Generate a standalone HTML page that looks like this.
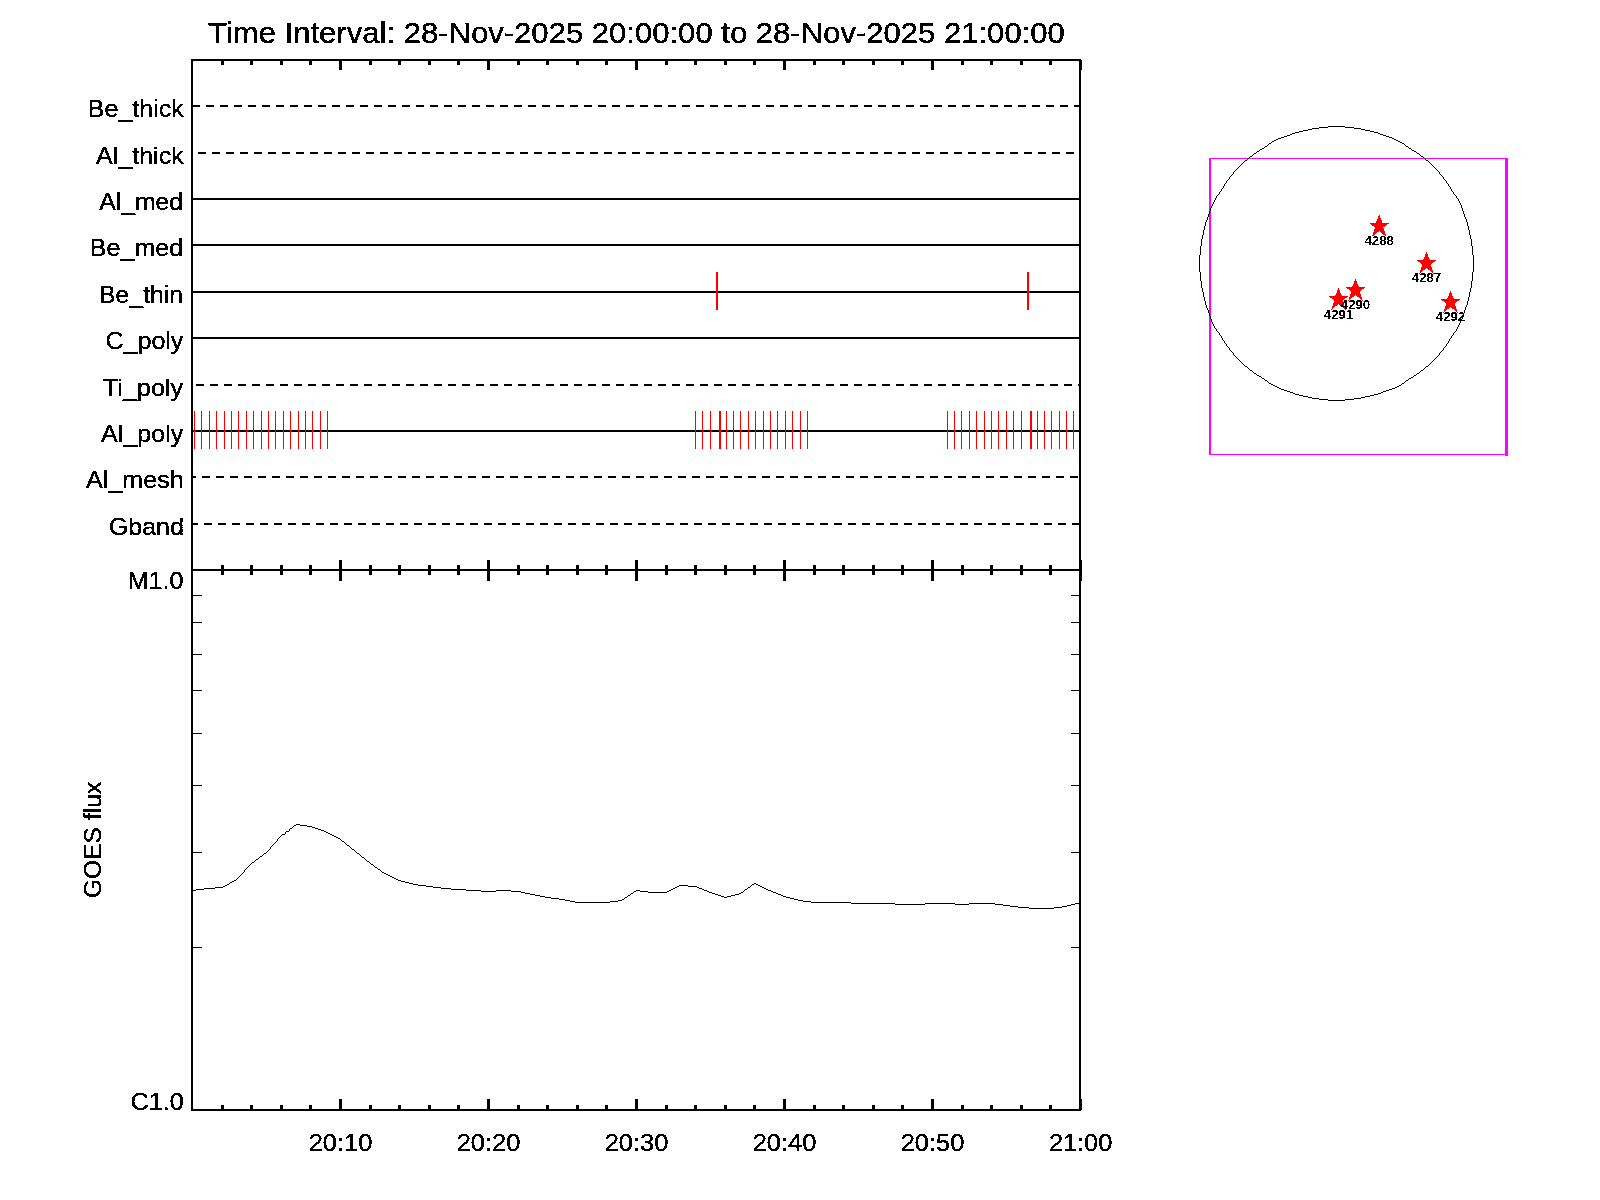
<!DOCTYPE html>
<html><head><meta charset="utf-8"><title>Time Interval plot</title>
<style>
html,body{margin:0;padding:0;background:#fff;}
body{width:1600px;height:1200px;overflow:hidden;}
svg{display:block;}
text{font-family:"Liberation Sans",sans-serif;fill:#000;}
</style></head>
<body>
<svg width="1600" height="1200" viewBox="0 0 1600 1200">
<rect x="0" y="0" width="1600" height="1200" fill="#fff"/>
<g shape-rendering="crispEdges">
<rect x="191" y="59" width="890" height="2" fill="#000"/>
<rect x="191" y="569" width="890" height="2" fill="#000"/>
<rect x="191" y="1109" width="890" height="2" fill="#000"/>
<rect x="191" y="59" width="2" height="1052" fill="#000"/>
<rect x="1079" y="59" width="2" height="1052" fill="#000"/>
<rect x="221" y="60" width="3" height="5" fill="#000"/>
<rect x="221" y="565" width="3" height="10" fill="#000"/>
<rect x="221" y="1105" width="3" height="5" fill="#000"/>
<rect x="250" y="60" width="3" height="5" fill="#000"/>
<rect x="250" y="565" width="3" height="10" fill="#000"/>
<rect x="250" y="1105" width="3" height="5" fill="#000"/>
<rect x="280" y="60" width="3" height="5" fill="#000"/>
<rect x="280" y="565" width="3" height="10" fill="#000"/>
<rect x="280" y="1105" width="3" height="5" fill="#000"/>
<rect x="309" y="60" width="3" height="5" fill="#000"/>
<rect x="309" y="565" width="3" height="10" fill="#000"/>
<rect x="309" y="1105" width="3" height="5" fill="#000"/>
<rect x="339" y="60" width="3" height="10" fill="#000"/>
<rect x="339" y="560" width="3" height="21" fill="#000"/>
<rect x="339" y="1099" width="3" height="11" fill="#000"/>
<rect x="369" y="60" width="3" height="5" fill="#000"/>
<rect x="369" y="565" width="3" height="10" fill="#000"/>
<rect x="369" y="1105" width="3" height="5" fill="#000"/>
<rect x="398" y="60" width="3" height="5" fill="#000"/>
<rect x="398" y="565" width="3" height="10" fill="#000"/>
<rect x="398" y="1105" width="3" height="5" fill="#000"/>
<rect x="428" y="60" width="3" height="5" fill="#000"/>
<rect x="428" y="565" width="3" height="10" fill="#000"/>
<rect x="428" y="1105" width="3" height="5" fill="#000"/>
<rect x="457" y="60" width="3" height="5" fill="#000"/>
<rect x="457" y="565" width="3" height="10" fill="#000"/>
<rect x="457" y="1105" width="3" height="5" fill="#000"/>
<rect x="487" y="60" width="3" height="10" fill="#000"/>
<rect x="487" y="560" width="3" height="21" fill="#000"/>
<rect x="487" y="1099" width="3" height="11" fill="#000"/>
<rect x="517" y="60" width="3" height="5" fill="#000"/>
<rect x="517" y="565" width="3" height="10" fill="#000"/>
<rect x="517" y="1105" width="3" height="5" fill="#000"/>
<rect x="546" y="60" width="3" height="5" fill="#000"/>
<rect x="546" y="565" width="3" height="10" fill="#000"/>
<rect x="546" y="1105" width="3" height="5" fill="#000"/>
<rect x="576" y="60" width="3" height="5" fill="#000"/>
<rect x="576" y="565" width="3" height="10" fill="#000"/>
<rect x="576" y="1105" width="3" height="5" fill="#000"/>
<rect x="605" y="60" width="3" height="5" fill="#000"/>
<rect x="605" y="565" width="3" height="10" fill="#000"/>
<rect x="605" y="1105" width="3" height="5" fill="#000"/>
<rect x="635" y="60" width="3" height="10" fill="#000"/>
<rect x="635" y="560" width="3" height="21" fill="#000"/>
<rect x="635" y="1099" width="3" height="11" fill="#000"/>
<rect x="665" y="60" width="3" height="5" fill="#000"/>
<rect x="665" y="565" width="3" height="10" fill="#000"/>
<rect x="665" y="1105" width="3" height="5" fill="#000"/>
<rect x="694" y="60" width="3" height="5" fill="#000"/>
<rect x="694" y="565" width="3" height="10" fill="#000"/>
<rect x="694" y="1105" width="3" height="5" fill="#000"/>
<rect x="724" y="60" width="3" height="5" fill="#000"/>
<rect x="724" y="565" width="3" height="10" fill="#000"/>
<rect x="724" y="1105" width="3" height="5" fill="#000"/>
<rect x="753" y="60" width="3" height="5" fill="#000"/>
<rect x="753" y="565" width="3" height="10" fill="#000"/>
<rect x="753" y="1105" width="3" height="5" fill="#000"/>
<rect x="783" y="60" width="3" height="10" fill="#000"/>
<rect x="783" y="560" width="3" height="21" fill="#000"/>
<rect x="783" y="1099" width="3" height="11" fill="#000"/>
<rect x="813" y="60" width="3" height="5" fill="#000"/>
<rect x="813" y="565" width="3" height="10" fill="#000"/>
<rect x="813" y="1105" width="3" height="5" fill="#000"/>
<rect x="842" y="60" width="3" height="5" fill="#000"/>
<rect x="842" y="565" width="3" height="10" fill="#000"/>
<rect x="842" y="1105" width="3" height="5" fill="#000"/>
<rect x="872" y="60" width="3" height="5" fill="#000"/>
<rect x="872" y="565" width="3" height="10" fill="#000"/>
<rect x="872" y="1105" width="3" height="5" fill="#000"/>
<rect x="901" y="60" width="3" height="5" fill="#000"/>
<rect x="901" y="565" width="3" height="10" fill="#000"/>
<rect x="901" y="1105" width="3" height="5" fill="#000"/>
<rect x="931" y="60" width="3" height="10" fill="#000"/>
<rect x="931" y="560" width="3" height="21" fill="#000"/>
<rect x="931" y="1099" width="3" height="11" fill="#000"/>
<rect x="961" y="60" width="3" height="5" fill="#000"/>
<rect x="961" y="565" width="3" height="10" fill="#000"/>
<rect x="961" y="1105" width="3" height="5" fill="#000"/>
<rect x="990" y="60" width="3" height="5" fill="#000"/>
<rect x="990" y="565" width="3" height="10" fill="#000"/>
<rect x="990" y="1105" width="3" height="5" fill="#000"/>
<rect x="1020" y="60" width="3" height="5" fill="#000"/>
<rect x="1020" y="565" width="3" height="10" fill="#000"/>
<rect x="1020" y="1105" width="3" height="5" fill="#000"/>
<rect x="1049" y="60" width="3" height="5" fill="#000"/>
<rect x="1049" y="565" width="3" height="10" fill="#000"/>
<rect x="1049" y="1105" width="3" height="5" fill="#000"/>
<rect x="1079" y="60" width="3" height="10" fill="#000"/>
<rect x="1079" y="560" width="3" height="21" fill="#000"/>
<rect x="1079" y="1099" width="3" height="11" fill="#000"/>
<rect x="191" y="595" width="11" height="1" fill="#000"/>
<rect x="1071" y="595" width="10" height="1" fill="#000"/>
<rect x="191" y="622" width="11" height="1" fill="#000"/>
<rect x="1071" y="622" width="10" height="1" fill="#000"/>
<rect x="191" y="654" width="11" height="1" fill="#000"/>
<rect x="1071" y="654" width="10" height="1" fill="#000"/>
<rect x="191" y="690" width="11" height="1" fill="#000"/>
<rect x="1071" y="690" width="10" height="1" fill="#000"/>
<rect x="191" y="733" width="11" height="1" fill="#000"/>
<rect x="1071" y="733" width="10" height="1" fill="#000"/>
<rect x="191" y="785" width="11" height="1" fill="#000"/>
<rect x="1071" y="785" width="10" height="1" fill="#000"/>
<rect x="191" y="852" width="11" height="1" fill="#000"/>
<rect x="1071" y="852" width="10" height="1" fill="#000"/>
<rect x="191" y="947" width="11" height="1" fill="#000"/>
<rect x="1071" y="947" width="10" height="1" fill="#000"/>
<rect x="193" y="105" width="7" height="2" fill="#000"/>
<rect x="206" y="105" width="8" height="2" fill="#000"/>
<rect x="220" y="105" width="8" height="2" fill="#000"/>
<rect x="234" y="105" width="8" height="2" fill="#000"/>
<rect x="248" y="105" width="8" height="2" fill="#000"/>
<rect x="262" y="105" width="8" height="2" fill="#000"/>
<rect x="276" y="105" width="8" height="2" fill="#000"/>
<rect x="290" y="105" width="8" height="2" fill="#000"/>
<rect x="304" y="105" width="8" height="2" fill="#000"/>
<rect x="318" y="105" width="8" height="2" fill="#000"/>
<rect x="332" y="105" width="8" height="2" fill="#000"/>
<rect x="346" y="105" width="8" height="2" fill="#000"/>
<rect x="360" y="105" width="8" height="2" fill="#000"/>
<rect x="374" y="105" width="8" height="2" fill="#000"/>
<rect x="388" y="105" width="8" height="2" fill="#000"/>
<rect x="402" y="105" width="8" height="2" fill="#000"/>
<rect x="416" y="105" width="8" height="2" fill="#000"/>
<rect x="430" y="105" width="8" height="2" fill="#000"/>
<rect x="444" y="105" width="8" height="2" fill="#000"/>
<rect x="458" y="105" width="8" height="2" fill="#000"/>
<rect x="472" y="105" width="8" height="2" fill="#000"/>
<rect x="486" y="105" width="8" height="2" fill="#000"/>
<rect x="500" y="105" width="8" height="2" fill="#000"/>
<rect x="514" y="105" width="8" height="2" fill="#000"/>
<rect x="528" y="105" width="8" height="2" fill="#000"/>
<rect x="542" y="105" width="8" height="2" fill="#000"/>
<rect x="556" y="105" width="8" height="2" fill="#000"/>
<rect x="570" y="105" width="8" height="2" fill="#000"/>
<rect x="584" y="105" width="8" height="2" fill="#000"/>
<rect x="598" y="105" width="8" height="2" fill="#000"/>
<rect x="612" y="105" width="8" height="2" fill="#000"/>
<rect x="626" y="105" width="8" height="2" fill="#000"/>
<rect x="640" y="105" width="8" height="2" fill="#000"/>
<rect x="654" y="105" width="8" height="2" fill="#000"/>
<rect x="668" y="105" width="8" height="2" fill="#000"/>
<rect x="682" y="105" width="8" height="2" fill="#000"/>
<rect x="696" y="105" width="8" height="2" fill="#000"/>
<rect x="710" y="105" width="8" height="2" fill="#000"/>
<rect x="724" y="105" width="8" height="2" fill="#000"/>
<rect x="738" y="105" width="8" height="2" fill="#000"/>
<rect x="752" y="105" width="8" height="2" fill="#000"/>
<rect x="766" y="105" width="8" height="2" fill="#000"/>
<rect x="780" y="105" width="8" height="2" fill="#000"/>
<rect x="794" y="105" width="8" height="2" fill="#000"/>
<rect x="808" y="105" width="8" height="2" fill="#000"/>
<rect x="822" y="105" width="8" height="2" fill="#000"/>
<rect x="836" y="105" width="8" height="2" fill="#000"/>
<rect x="850" y="105" width="8" height="2" fill="#000"/>
<rect x="864" y="105" width="8" height="2" fill="#000"/>
<rect x="878" y="105" width="8" height="2" fill="#000"/>
<rect x="892" y="105" width="8" height="2" fill="#000"/>
<rect x="906" y="105" width="8" height="2" fill="#000"/>
<rect x="920" y="105" width="8" height="2" fill="#000"/>
<rect x="934" y="105" width="8" height="2" fill="#000"/>
<rect x="948" y="105" width="8" height="2" fill="#000"/>
<rect x="962" y="105" width="8" height="2" fill="#000"/>
<rect x="976" y="105" width="8" height="2" fill="#000"/>
<rect x="990" y="105" width="8" height="2" fill="#000"/>
<rect x="1004" y="105" width="8" height="2" fill="#000"/>
<rect x="1018" y="105" width="8" height="2" fill="#000"/>
<rect x="1032" y="105" width="8" height="2" fill="#000"/>
<rect x="1046" y="105" width="8" height="2" fill="#000"/>
<rect x="1060" y="105" width="8" height="2" fill="#000"/>
<rect x="1074" y="105" width="5" height="2" fill="#000"/>
<rect x="198" y="152" width="8" height="2" fill="#000"/>
<rect x="212" y="152" width="8" height="2" fill="#000"/>
<rect x="226" y="152" width="8" height="2" fill="#000"/>
<rect x="240" y="152" width="8" height="2" fill="#000"/>
<rect x="254" y="152" width="8" height="2" fill="#000"/>
<rect x="268" y="152" width="8" height="2" fill="#000"/>
<rect x="282" y="152" width="8" height="2" fill="#000"/>
<rect x="296" y="152" width="8" height="2" fill="#000"/>
<rect x="310" y="152" width="8" height="2" fill="#000"/>
<rect x="324" y="152" width="8" height="2" fill="#000"/>
<rect x="338" y="152" width="8" height="2" fill="#000"/>
<rect x="352" y="152" width="8" height="2" fill="#000"/>
<rect x="366" y="152" width="8" height="2" fill="#000"/>
<rect x="380" y="152" width="8" height="2" fill="#000"/>
<rect x="394" y="152" width="8" height="2" fill="#000"/>
<rect x="408" y="152" width="8" height="2" fill="#000"/>
<rect x="422" y="152" width="8" height="2" fill="#000"/>
<rect x="436" y="152" width="8" height="2" fill="#000"/>
<rect x="450" y="152" width="8" height="2" fill="#000"/>
<rect x="464" y="152" width="8" height="2" fill="#000"/>
<rect x="478" y="152" width="8" height="2" fill="#000"/>
<rect x="492" y="152" width="8" height="2" fill="#000"/>
<rect x="506" y="152" width="8" height="2" fill="#000"/>
<rect x="520" y="152" width="8" height="2" fill="#000"/>
<rect x="534" y="152" width="8" height="2" fill="#000"/>
<rect x="548" y="152" width="8" height="2" fill="#000"/>
<rect x="562" y="152" width="8" height="2" fill="#000"/>
<rect x="576" y="152" width="8" height="2" fill="#000"/>
<rect x="590" y="152" width="8" height="2" fill="#000"/>
<rect x="604" y="152" width="8" height="2" fill="#000"/>
<rect x="618" y="152" width="8" height="2" fill="#000"/>
<rect x="632" y="152" width="8" height="2" fill="#000"/>
<rect x="646" y="152" width="8" height="2" fill="#000"/>
<rect x="660" y="152" width="8" height="2" fill="#000"/>
<rect x="674" y="152" width="8" height="2" fill="#000"/>
<rect x="688" y="152" width="8" height="2" fill="#000"/>
<rect x="702" y="152" width="8" height="2" fill="#000"/>
<rect x="716" y="152" width="8" height="2" fill="#000"/>
<rect x="730" y="152" width="8" height="2" fill="#000"/>
<rect x="744" y="152" width="8" height="2" fill="#000"/>
<rect x="758" y="152" width="8" height="2" fill="#000"/>
<rect x="772" y="152" width="8" height="2" fill="#000"/>
<rect x="786" y="152" width="8" height="2" fill="#000"/>
<rect x="800" y="152" width="8" height="2" fill="#000"/>
<rect x="814" y="152" width="8" height="2" fill="#000"/>
<rect x="828" y="152" width="8" height="2" fill="#000"/>
<rect x="842" y="152" width="8" height="2" fill="#000"/>
<rect x="856" y="152" width="8" height="2" fill="#000"/>
<rect x="870" y="152" width="8" height="2" fill="#000"/>
<rect x="884" y="152" width="8" height="2" fill="#000"/>
<rect x="898" y="152" width="8" height="2" fill="#000"/>
<rect x="912" y="152" width="8" height="2" fill="#000"/>
<rect x="926" y="152" width="8" height="2" fill="#000"/>
<rect x="940" y="152" width="8" height="2" fill="#000"/>
<rect x="954" y="152" width="8" height="2" fill="#000"/>
<rect x="968" y="152" width="8" height="2" fill="#000"/>
<rect x="982" y="152" width="8" height="2" fill="#000"/>
<rect x="996" y="152" width="8" height="2" fill="#000"/>
<rect x="1010" y="152" width="8" height="2" fill="#000"/>
<rect x="1024" y="152" width="8" height="2" fill="#000"/>
<rect x="1038" y="152" width="8" height="2" fill="#000"/>
<rect x="1052" y="152" width="8" height="2" fill="#000"/>
<rect x="1066" y="152" width="8" height="2" fill="#000"/>
<rect x="193" y="198" width="886" height="2" fill="#000"/>
<rect x="193" y="244" width="886" height="2" fill="#000"/>
<rect x="193" y="291" width="886" height="2" fill="#000"/>
<rect x="193" y="337" width="886" height="2" fill="#000"/>
<rect x="196" y="384" width="8" height="2" fill="#000"/>
<rect x="210" y="384" width="8" height="2" fill="#000"/>
<rect x="224" y="384" width="8" height="2" fill="#000"/>
<rect x="238" y="384" width="8" height="2" fill="#000"/>
<rect x="252" y="384" width="8" height="2" fill="#000"/>
<rect x="266" y="384" width="8" height="2" fill="#000"/>
<rect x="280" y="384" width="8" height="2" fill="#000"/>
<rect x="294" y="384" width="8" height="2" fill="#000"/>
<rect x="308" y="384" width="8" height="2" fill="#000"/>
<rect x="322" y="384" width="8" height="2" fill="#000"/>
<rect x="336" y="384" width="8" height="2" fill="#000"/>
<rect x="350" y="384" width="8" height="2" fill="#000"/>
<rect x="364" y="384" width="8" height="2" fill="#000"/>
<rect x="378" y="384" width="8" height="2" fill="#000"/>
<rect x="392" y="384" width="8" height="2" fill="#000"/>
<rect x="406" y="384" width="8" height="2" fill="#000"/>
<rect x="420" y="384" width="8" height="2" fill="#000"/>
<rect x="434" y="384" width="8" height="2" fill="#000"/>
<rect x="448" y="384" width="8" height="2" fill="#000"/>
<rect x="462" y="384" width="8" height="2" fill="#000"/>
<rect x="476" y="384" width="8" height="2" fill="#000"/>
<rect x="490" y="384" width="8" height="2" fill="#000"/>
<rect x="504" y="384" width="8" height="2" fill="#000"/>
<rect x="518" y="384" width="8" height="2" fill="#000"/>
<rect x="532" y="384" width="8" height="2" fill="#000"/>
<rect x="546" y="384" width="8" height="2" fill="#000"/>
<rect x="560" y="384" width="8" height="2" fill="#000"/>
<rect x="574" y="384" width="8" height="2" fill="#000"/>
<rect x="588" y="384" width="8" height="2" fill="#000"/>
<rect x="602" y="384" width="8" height="2" fill="#000"/>
<rect x="616" y="384" width="8" height="2" fill="#000"/>
<rect x="630" y="384" width="8" height="2" fill="#000"/>
<rect x="644" y="384" width="8" height="2" fill="#000"/>
<rect x="658" y="384" width="8" height="2" fill="#000"/>
<rect x="672" y="384" width="8" height="2" fill="#000"/>
<rect x="686" y="384" width="8" height="2" fill="#000"/>
<rect x="700" y="384" width="8" height="2" fill="#000"/>
<rect x="714" y="384" width="8" height="2" fill="#000"/>
<rect x="728" y="384" width="8" height="2" fill="#000"/>
<rect x="742" y="384" width="8" height="2" fill="#000"/>
<rect x="756" y="384" width="8" height="2" fill="#000"/>
<rect x="770" y="384" width="8" height="2" fill="#000"/>
<rect x="784" y="384" width="8" height="2" fill="#000"/>
<rect x="798" y="384" width="8" height="2" fill="#000"/>
<rect x="812" y="384" width="8" height="2" fill="#000"/>
<rect x="826" y="384" width="8" height="2" fill="#000"/>
<rect x="840" y="384" width="8" height="2" fill="#000"/>
<rect x="854" y="384" width="8" height="2" fill="#000"/>
<rect x="868" y="384" width="8" height="2" fill="#000"/>
<rect x="882" y="384" width="8" height="2" fill="#000"/>
<rect x="896" y="384" width="8" height="2" fill="#000"/>
<rect x="910" y="384" width="8" height="2" fill="#000"/>
<rect x="924" y="384" width="8" height="2" fill="#000"/>
<rect x="938" y="384" width="8" height="2" fill="#000"/>
<rect x="952" y="384" width="8" height="2" fill="#000"/>
<rect x="966" y="384" width="8" height="2" fill="#000"/>
<rect x="980" y="384" width="8" height="2" fill="#000"/>
<rect x="994" y="384" width="8" height="2" fill="#000"/>
<rect x="1008" y="384" width="8" height="2" fill="#000"/>
<rect x="1022" y="384" width="8" height="2" fill="#000"/>
<rect x="1036" y="384" width="8" height="2" fill="#000"/>
<rect x="1050" y="384" width="8" height="2" fill="#000"/>
<rect x="1064" y="384" width="8" height="2" fill="#000"/>
<rect x="1078" y="384" width="1" height="2" fill="#000"/>
<rect x="193" y="430" width="886" height="2" fill="#000"/>
<rect x="193" y="476" width="3" height="2" fill="#000"/>
<rect x="202" y="476" width="8" height="2" fill="#000"/>
<rect x="216" y="476" width="8" height="2" fill="#000"/>
<rect x="230" y="476" width="8" height="2" fill="#000"/>
<rect x="244" y="476" width="8" height="2" fill="#000"/>
<rect x="258" y="476" width="8" height="2" fill="#000"/>
<rect x="272" y="476" width="8" height="2" fill="#000"/>
<rect x="286" y="476" width="8" height="2" fill="#000"/>
<rect x="300" y="476" width="8" height="2" fill="#000"/>
<rect x="314" y="476" width="8" height="2" fill="#000"/>
<rect x="328" y="476" width="8" height="2" fill="#000"/>
<rect x="342" y="476" width="8" height="2" fill="#000"/>
<rect x="356" y="476" width="8" height="2" fill="#000"/>
<rect x="370" y="476" width="8" height="2" fill="#000"/>
<rect x="384" y="476" width="8" height="2" fill="#000"/>
<rect x="398" y="476" width="8" height="2" fill="#000"/>
<rect x="412" y="476" width="8" height="2" fill="#000"/>
<rect x="426" y="476" width="8" height="2" fill="#000"/>
<rect x="440" y="476" width="8" height="2" fill="#000"/>
<rect x="454" y="476" width="8" height="2" fill="#000"/>
<rect x="468" y="476" width="8" height="2" fill="#000"/>
<rect x="482" y="476" width="8" height="2" fill="#000"/>
<rect x="496" y="476" width="8" height="2" fill="#000"/>
<rect x="510" y="476" width="8" height="2" fill="#000"/>
<rect x="524" y="476" width="8" height="2" fill="#000"/>
<rect x="538" y="476" width="8" height="2" fill="#000"/>
<rect x="552" y="476" width="8" height="2" fill="#000"/>
<rect x="566" y="476" width="8" height="2" fill="#000"/>
<rect x="580" y="476" width="8" height="2" fill="#000"/>
<rect x="594" y="476" width="8" height="2" fill="#000"/>
<rect x="608" y="476" width="8" height="2" fill="#000"/>
<rect x="622" y="476" width="8" height="2" fill="#000"/>
<rect x="636" y="476" width="8" height="2" fill="#000"/>
<rect x="650" y="476" width="8" height="2" fill="#000"/>
<rect x="664" y="476" width="8" height="2" fill="#000"/>
<rect x="678" y="476" width="8" height="2" fill="#000"/>
<rect x="692" y="476" width="8" height="2" fill="#000"/>
<rect x="706" y="476" width="8" height="2" fill="#000"/>
<rect x="720" y="476" width="8" height="2" fill="#000"/>
<rect x="734" y="476" width="8" height="2" fill="#000"/>
<rect x="748" y="476" width="8" height="2" fill="#000"/>
<rect x="762" y="476" width="8" height="2" fill="#000"/>
<rect x="776" y="476" width="8" height="2" fill="#000"/>
<rect x="790" y="476" width="8" height="2" fill="#000"/>
<rect x="804" y="476" width="8" height="2" fill="#000"/>
<rect x="818" y="476" width="8" height="2" fill="#000"/>
<rect x="832" y="476" width="8" height="2" fill="#000"/>
<rect x="846" y="476" width="8" height="2" fill="#000"/>
<rect x="860" y="476" width="8" height="2" fill="#000"/>
<rect x="874" y="476" width="8" height="2" fill="#000"/>
<rect x="888" y="476" width="8" height="2" fill="#000"/>
<rect x="902" y="476" width="8" height="2" fill="#000"/>
<rect x="916" y="476" width="8" height="2" fill="#000"/>
<rect x="930" y="476" width="8" height="2" fill="#000"/>
<rect x="944" y="476" width="8" height="2" fill="#000"/>
<rect x="958" y="476" width="8" height="2" fill="#000"/>
<rect x="972" y="476" width="8" height="2" fill="#000"/>
<rect x="986" y="476" width="8" height="2" fill="#000"/>
<rect x="1000" y="476" width="8" height="2" fill="#000"/>
<rect x="1014" y="476" width="8" height="2" fill="#000"/>
<rect x="1028" y="476" width="8" height="2" fill="#000"/>
<rect x="1042" y="476" width="8" height="2" fill="#000"/>
<rect x="1056" y="476" width="8" height="2" fill="#000"/>
<rect x="1070" y="476" width="8" height="2" fill="#000"/>
<rect x="193" y="523" width="5" height="2" fill="#000"/>
<rect x="204" y="523" width="8" height="2" fill="#000"/>
<rect x="218" y="523" width="8" height="2" fill="#000"/>
<rect x="232" y="523" width="8" height="2" fill="#000"/>
<rect x="246" y="523" width="8" height="2" fill="#000"/>
<rect x="260" y="523" width="8" height="2" fill="#000"/>
<rect x="274" y="523" width="8" height="2" fill="#000"/>
<rect x="288" y="523" width="8" height="2" fill="#000"/>
<rect x="302" y="523" width="8" height="2" fill="#000"/>
<rect x="316" y="523" width="8" height="2" fill="#000"/>
<rect x="330" y="523" width="8" height="2" fill="#000"/>
<rect x="344" y="523" width="8" height="2" fill="#000"/>
<rect x="358" y="523" width="8" height="2" fill="#000"/>
<rect x="372" y="523" width="8" height="2" fill="#000"/>
<rect x="386" y="523" width="8" height="2" fill="#000"/>
<rect x="400" y="523" width="8" height="2" fill="#000"/>
<rect x="414" y="523" width="8" height="2" fill="#000"/>
<rect x="428" y="523" width="8" height="2" fill="#000"/>
<rect x="442" y="523" width="8" height="2" fill="#000"/>
<rect x="456" y="523" width="8" height="2" fill="#000"/>
<rect x="470" y="523" width="8" height="2" fill="#000"/>
<rect x="484" y="523" width="8" height="2" fill="#000"/>
<rect x="498" y="523" width="8" height="2" fill="#000"/>
<rect x="512" y="523" width="8" height="2" fill="#000"/>
<rect x="526" y="523" width="8" height="2" fill="#000"/>
<rect x="540" y="523" width="8" height="2" fill="#000"/>
<rect x="554" y="523" width="8" height="2" fill="#000"/>
<rect x="568" y="523" width="8" height="2" fill="#000"/>
<rect x="582" y="523" width="8" height="2" fill="#000"/>
<rect x="596" y="523" width="8" height="2" fill="#000"/>
<rect x="610" y="523" width="8" height="2" fill="#000"/>
<rect x="624" y="523" width="8" height="2" fill="#000"/>
<rect x="638" y="523" width="8" height="2" fill="#000"/>
<rect x="652" y="523" width="8" height="2" fill="#000"/>
<rect x="666" y="523" width="8" height="2" fill="#000"/>
<rect x="680" y="523" width="8" height="2" fill="#000"/>
<rect x="694" y="523" width="8" height="2" fill="#000"/>
<rect x="708" y="523" width="8" height="2" fill="#000"/>
<rect x="722" y="523" width="8" height="2" fill="#000"/>
<rect x="736" y="523" width="8" height="2" fill="#000"/>
<rect x="750" y="523" width="8" height="2" fill="#000"/>
<rect x="764" y="523" width="8" height="2" fill="#000"/>
<rect x="778" y="523" width="8" height="2" fill="#000"/>
<rect x="792" y="523" width="8" height="2" fill="#000"/>
<rect x="806" y="523" width="8" height="2" fill="#000"/>
<rect x="820" y="523" width="8" height="2" fill="#000"/>
<rect x="834" y="523" width="8" height="2" fill="#000"/>
<rect x="848" y="523" width="8" height="2" fill="#000"/>
<rect x="862" y="523" width="8" height="2" fill="#000"/>
<rect x="876" y="523" width="8" height="2" fill="#000"/>
<rect x="890" y="523" width="8" height="2" fill="#000"/>
<rect x="904" y="523" width="8" height="2" fill="#000"/>
<rect x="918" y="523" width="8" height="2" fill="#000"/>
<rect x="932" y="523" width="8" height="2" fill="#000"/>
<rect x="946" y="523" width="8" height="2" fill="#000"/>
<rect x="960" y="523" width="8" height="2" fill="#000"/>
<rect x="974" y="523" width="8" height="2" fill="#000"/>
<rect x="988" y="523" width="8" height="2" fill="#000"/>
<rect x="1002" y="523" width="8" height="2" fill="#000"/>
<rect x="1016" y="523" width="8" height="2" fill="#000"/>
<rect x="1030" y="523" width="8" height="2" fill="#000"/>
<rect x="1044" y="523" width="8" height="2" fill="#000"/>
<rect x="1058" y="523" width="8" height="2" fill="#000"/>
<rect x="1072" y="523" width="7" height="2" fill="#000"/>
<rect x="716" y="272" width="2" height="38" fill="#ff0000"/>
<rect x="1027" y="272" width="2" height="38" fill="#ff0000"/>
<rect x="194" y="411" width="1" height="38" fill="#ff0000"/>
<rect x="201" y="411" width="1" height="38" fill="#ff0000"/>
<rect x="209" y="411" width="1" height="38" fill="#ff0000"/>
<rect x="216" y="411" width="1" height="38" fill="#ff0000"/>
<rect x="224" y="411" width="1" height="38" fill="#ff0000"/>
<rect x="231" y="411" width="1" height="38" fill="#ff0000"/>
<rect x="238" y="411" width="1" height="38" fill="#ff0000"/>
<rect x="246" y="411" width="1" height="38" fill="#ff0000"/>
<rect x="253" y="411" width="1" height="38" fill="#ff0000"/>
<rect x="261" y="411" width="1" height="38" fill="#ff0000"/>
<rect x="268" y="411" width="1" height="38" fill="#ff0000"/>
<rect x="275" y="411" width="1" height="38" fill="#ff0000"/>
<rect x="283" y="411" width="1" height="38" fill="#ff0000"/>
<rect x="290" y="411" width="1" height="38" fill="#ff0000"/>
<rect x="298" y="411" width="1" height="38" fill="#ff0000"/>
<rect x="305" y="411" width="1" height="38" fill="#ff0000"/>
<rect x="312" y="411" width="1" height="38" fill="#ff0000"/>
<rect x="320" y="411" width="1" height="38" fill="#ff0000"/>
<rect x="327" y="411" width="1" height="38" fill="#ff0000"/>
<rect x="695" y="411" width="1" height="38" fill="#ff0000"/>
<rect x="702" y="411" width="1" height="38" fill="#ff0000"/>
<rect x="710" y="411" width="1" height="38" fill="#ff0000"/>
<rect x="719" y="411" width="1" height="38" fill="#ff0000"/>
<rect x="720" y="411" width="1" height="38" fill="#ff0000"/>
<rect x="726" y="411" width="1" height="38" fill="#ff0000"/>
<rect x="733" y="411" width="1" height="38" fill="#ff0000"/>
<rect x="740" y="411" width="1" height="38" fill="#ff0000"/>
<rect x="748" y="411" width="1" height="38" fill="#ff0000"/>
<rect x="755" y="411" width="1" height="38" fill="#ff0000"/>
<rect x="763" y="411" width="1" height="38" fill="#ff0000"/>
<rect x="770" y="411" width="1" height="38" fill="#ff0000"/>
<rect x="777" y="411" width="1" height="38" fill="#ff0000"/>
<rect x="785" y="411" width="1" height="38" fill="#ff0000"/>
<rect x="792" y="411" width="1" height="38" fill="#ff0000"/>
<rect x="800" y="411" width="1" height="38" fill="#ff0000"/>
<rect x="807" y="411" width="1" height="38" fill="#ff0000"/>
<rect x="947" y="411" width="1" height="38" fill="#ff0000"/>
<rect x="954" y="411" width="1" height="38" fill="#ff0000"/>
<rect x="961" y="411" width="1" height="38" fill="#ff0000"/>
<rect x="969" y="411" width="1" height="38" fill="#ff0000"/>
<rect x="976" y="411" width="1" height="38" fill="#ff0000"/>
<rect x="984" y="411" width="1" height="38" fill="#ff0000"/>
<rect x="991" y="411" width="1" height="38" fill="#ff0000"/>
<rect x="998" y="411" width="1" height="38" fill="#ff0000"/>
<rect x="1006" y="411" width="1" height="38" fill="#ff0000"/>
<rect x="1013" y="411" width="1" height="38" fill="#ff0000"/>
<rect x="1021" y="411" width="1" height="38" fill="#ff0000"/>
<rect x="1030" y="411" width="1" height="38" fill="#ff0000"/>
<rect x="1031" y="411" width="1" height="38" fill="#ff0000"/>
<rect x="1037" y="411" width="1" height="38" fill="#ff0000"/>
<rect x="1044" y="411" width="1" height="38" fill="#ff0000"/>
<rect x="1051" y="411" width="1" height="38" fill="#ff0000"/>
<rect x="1059" y="411" width="1" height="38" fill="#ff0000"/>
<rect x="1066" y="411" width="1" height="38" fill="#ff0000"/>
<rect x="1073" y="411" width="1" height="38" fill="#ff0000"/>
<path d="M296,824h4v1h-4zM294,825h2v1h-2zM300,825h7v1h-7zM293,826h1v1h-1zM307,826h5v1h-5zM292,827h1v1h-1zM312,827h3v1h-3zM290,828h2v1h-2zM315,828h3v1h-3zM289,829h1v1h-1zM318,829h3v1h-3zM289,830h1v1h-1zM321,830h3v1h-3zM286,831h3v1h-3zM324,831h2v1h-2zM285,832h1v1h-1zM326,832h2v1h-2zM285,833h1v1h-1zM328,833h2v1h-2zM282,834h3v1h-3zM330,834h2v1h-2zM281,835h1v1h-1zM332,835h2v1h-2zM280,836h1v1h-1zM334,836h2v1h-2zM279,837h1v1h-1zM336,837h2v1h-2zM278,838h1v1h-1zM338,838h2v1h-2zM277,839h1v1h-1zM340,839h1v1h-1zM277,840h1v1h-1zM341,840h1v1h-1zM276,841h1v1h-1zM342,841h2v1h-2zM275,842h1v1h-1zM344,842h1v1h-1zM274,843h1v1h-1zM345,843h1v1h-1zM273,844h1v1h-1zM346,844h1v1h-1zM272,845h1v1h-1zM347,845h2v1h-2zM271,846h1v1h-1zM349,846h1v1h-1zM270,847h1v1h-1zM350,847h1v1h-1zM270,848h1v1h-1zM351,848h1v1h-1zM269,849h1v1h-1zM352,849h2v1h-2zM268,850h1v1h-1zM354,850h1v1h-1zM267,851h1v1h-1zM355,851h1v1h-1zM266,852h1v1h-1zM356,852h1v1h-1zM264,853h2v1h-2zM357,853h2v1h-2zM263,854h1v1h-1zM359,854h1v1h-1zM262,855h1v1h-1zM360,855h1v1h-1zM260,856h2v1h-2zM361,856h1v1h-1zM259,857h1v1h-1zM362,857h2v1h-2zM258,858h1v1h-1zM364,858h1v1h-1zM256,859h2v1h-2zM365,859h1v1h-1zM255,860h1v1h-1zM366,860h1v1h-1zM254,861h1v1h-1zM367,861h2v1h-2zM252,862h2v1h-2zM369,862h1v1h-1zM251,863h1v1h-1zM370,863h1v1h-1zM250,864h1v1h-1zM371,864h2v1h-2zM249,865h1v1h-1zM373,865h1v1h-1zM248,866h1v1h-1zM374,866h1v1h-1zM247,867h1v1h-1zM375,867h2v1h-2zM246,868h1v1h-1zM377,868h1v1h-1zM245,869h1v1h-1zM378,869h2v1h-2zM244,870h1v1h-1zM380,870h1v1h-1zM244,871h1v1h-1zM381,871h1v1h-1zM243,872h1v1h-1zM382,872h2v1h-2zM242,873h1v1h-1zM384,873h2v1h-2zM241,874h1v1h-1zM386,874h2v1h-2zM240,875h1v1h-1zM388,875h2v1h-2zM239,876h1v1h-1zM390,876h2v1h-2zM238,877h1v1h-1zM392,877h2v1h-2zM237,878h1v1h-1zM394,878h2v1h-2zM236,879h1v1h-1zM396,879h2v1h-2zM234,880h2v1h-2zM398,880h3v1h-3zM232,881h2v1h-2zM401,881h4v1h-4zM230,882h2v1h-2zM405,882h4v1h-4zM229,883h1v1h-1zM409,883h4v1h-4zM754,883h2v1h-2zM227,884h2v1h-2zM413,884h5v1h-5zM752,884h2v1h-2zM756,884h2v1h-2zM225,885h2v1h-2zM418,885h8v1h-8zM679,885h9v1h-9zM751,885h1v1h-1zM758,885h2v1h-2zM223,886h2v1h-2zM426,886h7v1h-7zM677,886h2v1h-2zM688,886h9v1h-9zM750,886h1v1h-1zM760,886h2v1h-2zM215,887h8v1h-8zM433,887h8v1h-8zM675,887h2v1h-2zM697,887h2v1h-2zM748,887h2v1h-2zM762,887h2v1h-2zM204,888h11v1h-11zM441,888h10v1h-10zM673,888h2v1h-2zM699,888h3v1h-3zM747,888h1v1h-1zM764,888h2v1h-2zM196,889h8v1h-8zM451,889h15v1h-15zM671,889h2v1h-2zM702,889h2v1h-2zM745,889h2v1h-2zM766,889h2v1h-2zM193,890h3v1h-3zM466,890h15v1h-15zM496,890h15v1h-15zM636,890h4v1h-4zM669,890h2v1h-2zM704,890h3v1h-3zM744,890h1v1h-1zM768,890h3v1h-3zM481,891h15v1h-15zM511,891h10v1h-10zM634,891h2v1h-2zM640,891h8v1h-8zM667,891h2v1h-2zM707,891h2v1h-2zM743,891h1v1h-1zM771,891h2v1h-2zM521,892h4v1h-4zM633,892h1v1h-1zM648,892h19v1h-19zM709,892h3v1h-3zM741,892h2v1h-2zM773,892h3v1h-3zM525,893h5v1h-5zM631,893h2v1h-2zM712,893h3v1h-3zM739,893h2v1h-2zM776,893h2v1h-2zM530,894h5v1h-5zM630,894h1v1h-1zM715,894h3v1h-3zM735,894h4v1h-4zM778,894h3v1h-3zM535,895h5v1h-5zM628,895h2v1h-2zM718,895h3v1h-3zM731,895h4v1h-4zM781,895h2v1h-2zM540,896h5v1h-5zM627,896h1v1h-1zM721,896h3v1h-3zM727,896h4v1h-4zM783,896h3v1h-3zM545,897h6v1h-6zM625,897h2v1h-2zM724,897h3v1h-3zM786,897h4v1h-4zM551,898h8v1h-8zM624,898h1v1h-1zM790,898h4v1h-4zM559,899h6v1h-6zM622,899h2v1h-2zM794,899h4v1h-4zM565,900h5v1h-5zM618,900h4v1h-4zM798,900h5v1h-5zM570,901h5v1h-5zM610,901h8v1h-8zM803,901h8v1h-8zM575,902h35v1h-35zM811,902h40v1h-40zM851,903h44v1h-44zM925,903h30v1h-30zM969,903h26v1h-26zM1075,903h4v1h-4zM895,904h30v1h-30zM955,904h14v1h-14zM995,904h8v1h-8zM1071,904h4v1h-4zM1003,905h7v1h-7zM1067,905h4v1h-4zM1010,906h8v1h-8zM1062,906h5v1h-5zM1018,907h11v1h-11zM1054,907h8v1h-8zM1029,908h25v1h-25z" fill="#000"/>
<rect x="1209" y="158" width="299" height="1" fill="#ff00ff"/>
<rect x="1209" y="454" width="299" height="1" fill="#ff00ff"/>
<rect x="1209" y="158" width="2" height="297" fill="#ff00ff"/>
<rect x="1505" y="158" width="3" height="298" fill="#ff00ff"/>
<path d="M1328,126h17v1h-17zM1319,127h9v1h-9zM1345,127h9v1h-9zM1312,128h7v1h-7zM1354,128h7v1h-7zM1308,129h4v1h-4zM1361,129h4v1h-4zM1303,130h5v1h-5zM1365,130h5v1h-5zM1299,131h4v1h-4zM1370,131h4v1h-4zM1295,132h4v1h-4zM1374,132h4v1h-4zM1292,133h3v1h-3zM1378,133h2v1h-2zM1290,134h2v1h-2zM1380,134h3v1h-3zM1287,135h3v1h-3zM1383,135h3v1h-3zM1284,136h3v1h-3zM1386,136h3v1h-3zM1281,137h3v1h-3zM1389,137h3v1h-3zM1278,138h3v1h-3zM1392,138h2v1h-2zM1276,139h2v1h-2zM1394,139h2v1h-2zM1274,140h2v1h-2zM1396,140h2v1h-2zM1272,141h2v1h-2zM1398,141h2v1h-2zM1271,142h1v1h-1zM1400,142h2v1h-2zM1269,143h2v1h-2zM1402,143h2v1h-2zM1268,144h1v1h-1zM1404,144h1v1h-1zM1267,145h1v1h-1zM1405,145h1v1h-1zM1265,146h2v1h-2zM1406,146h2v1h-2zM1264,147h1v1h-1zM1408,147h1v1h-1zM1262,148h2v1h-2zM1409,148h2v1h-2zM1260,149h2v1h-2zM1411,149h1v1h-1zM1259,150h1v1h-1zM1412,150h2v1h-2zM1257,151h2v1h-2zM1414,151h2v1h-2zM1256,152h1v1h-1zM1416,152h1v1h-1zM1254,153h2v1h-2zM1417,153h2v1h-2zM1253,154h1v1h-1zM1419,154h1v1h-1zM1252,155h1v1h-1zM1420,155h1v1h-1zM1250,156h2v1h-2zM1421,156h2v1h-2zM1249,157h1v1h-1zM1423,157h1v1h-1zM1248,158h1v1h-1zM1424,158h1v1h-1zM1247,159h1v1h-1zM1425,159h1v1h-1zM1245,160h2v1h-2zM1426,160h2v1h-2zM1244,161h1v1h-1zM1428,161h1v1h-1zM1243,162h1v1h-1zM1429,162h1v1h-1zM1242,163h1v1h-1zM1430,163h1v1h-1zM1241,164h1v1h-1zM1431,164h1v1h-1zM1240,165h1v1h-1zM1432,165h1v1h-1zM1239,166h1v1h-1zM1433,166h1v1h-1zM1238,167h1v1h-1zM1434,167h1v1h-1zM1237,168h1v1h-1zM1435,168h1v1h-1zM1236,169h1v1h-1zM1436,169h1v1h-1zM1235,170h1v1h-1zM1437,170h1v1h-1zM1234,171h1v1h-1zM1438,171h1v1h-1zM1233,172h1v1h-1zM1439,172h1v1h-1zM1233,173h1v1h-1zM1439,173h1v1h-1zM1232,174h1v1h-1zM1440,174h1v1h-1zM1231,175h1v1h-1zM1441,175h1v1h-1zM1230,176h1v1h-1zM1442,176h1v1h-1zM1229,177h1v1h-1zM1443,177h1v1h-1zM1229,178h1v1h-1zM1443,178h1v1h-1zM1228,179h1v1h-1zM1444,179h1v1h-1zM1227,180h1v1h-1zM1445,180h1v1h-1zM1226,181h1v1h-1zM1446,181h1v1h-1zM1226,182h1v1h-1zM1446,182h1v1h-1zM1225,183h1v1h-1zM1447,183h1v1h-1zM1224,184h1v1h-1zM1448,184h1v1h-1zM1224,185h1v1h-1zM1448,185h1v1h-1zM1223,186h1v1h-1zM1449,186h1v1h-1zM1223,187h1v1h-1zM1450,187h1v1h-1zM1222,188h1v1h-1zM1450,188h1v1h-1zM1221,189h1v1h-1zM1451,189h1v1h-1zM1221,190h1v1h-1zM1451,190h1v1h-1zM1220,191h1v1h-1zM1452,191h1v1h-1zM1219,192h1v1h-1zM1453,192h1v1h-1zM1219,193h1v1h-1zM1453,193h1v1h-1zM1218,194h1v1h-1zM1454,194h1v1h-1zM1217,195h1v1h-1zM1455,195h1v1h-1zM1216,196h1v1h-1zM1456,196h1v1h-1zM1216,197h1v1h-1zM1456,197h1v1h-1zM1215,198h1v1h-1zM1457,198h1v1h-1zM1215,199h1v1h-1zM1458,199h1v1h-1zM1214,200h1v1h-1zM1458,200h1v1h-1zM1214,201h1v1h-1zM1459,201h1v1h-1zM1213,202h1v1h-1zM1459,202h1v1h-1zM1213,203h1v1h-1zM1460,203h1v1h-1zM1212,204h1v1h-1zM1460,204h1v1h-1zM1212,205h1v1h-1zM1461,205h1v1h-1zM1211,206h1v1h-1zM1461,206h1v1h-1zM1211,207h1v1h-1zM1461,207h1v1h-1zM1210,208h1v1h-1zM1462,208h1v1h-1zM1210,209h1v1h-1zM1462,209h1v1h-1zM1210,210h1v1h-1zM1462,210h1v1h-1zM1209,211h1v1h-1zM1463,211h1v1h-1zM1209,212h1v1h-1zM1463,212h1v1h-1zM1209,213h1v1h-1zM1463,213h1v1h-1zM1208,214h1v1h-1zM1464,214h1v1h-1zM1208,215h1v1h-1zM1464,215h1v1h-1zM1208,216h1v1h-1zM1464,216h1v1h-1zM1207,217h1v1h-1zM1465,217h1v1h-1zM1207,218h1v1h-1zM1465,218h1v1h-1zM1207,219h1v1h-1zM1466,219h1v1h-1zM1206,220h1v1h-1zM1466,220h1v1h-1zM1206,221h1v1h-1zM1466,221h1v1h-1zM1205,222h1v1h-1zM1467,222h1v1h-1zM1205,223h1v1h-1zM1467,223h1v1h-1zM1205,224h1v1h-1zM1467,224h1v1h-1zM1205,225h1v1h-1zM1467,225h1v1h-1zM1204,226h1v1h-1zM1468,226h1v1h-1zM1204,227h1v1h-1zM1468,227h1v1h-1zM1204,228h1v1h-1zM1468,228h1v1h-1zM1204,229h1v1h-1zM1468,229h1v1h-1zM1203,230h1v1h-1zM1469,230h1v1h-1zM1203,231h1v1h-1zM1469,231h1v1h-1zM1203,232h1v1h-1zM1469,232h1v1h-1zM1203,233h1v1h-1zM1469,233h1v1h-1zM1203,234h1v1h-1zM1469,234h1v1h-1zM1202,235h1v1h-1zM1470,235h1v1h-1zM1202,236h1v1h-1zM1470,236h1v1h-1zM1202,237h1v1h-1zM1470,237h1v1h-1zM1202,238h1v1h-1zM1470,238h1v1h-1zM1201,239h1v1h-1zM1471,239h1v1h-1zM1201,240h1v1h-1zM1471,240h1v1h-1zM1201,241h1v1h-1zM1471,241h1v1h-1zM1201,242h1v1h-1zM1471,242h1v1h-1zM1201,243h1v1h-1zM1471,243h1v1h-1zM1201,244h1v1h-1zM1471,244h1v1h-1zM1201,245h1v1h-1zM1471,245h1v1h-1zM1200,246h1v1h-1zM1472,246h1v1h-1zM1200,247h1v1h-1zM1472,247h1v1h-1zM1200,248h1v1h-1zM1472,248h1v1h-1zM1200,249h1v1h-1zM1472,249h1v1h-1zM1200,250h1v1h-1zM1472,250h1v1h-1zM1200,251h1v1h-1zM1472,251h1v1h-1zM1200,252h1v1h-1zM1472,252h1v1h-1zM1200,253h1v1h-1zM1472,253h1v1h-1zM1200,254h1v1h-1zM1472,254h1v1h-1zM1199,255h1v1h-1zM1473,255h1v1h-1zM1199,256h1v1h-1zM1473,256h1v1h-1zM1199,257h1v1h-1zM1473,257h1v1h-1zM1199,258h1v1h-1zM1473,258h1v1h-1zM1199,259h1v1h-1zM1473,259h1v1h-1zM1199,260h1v1h-1zM1473,260h1v1h-1zM1199,261h1v1h-1zM1473,261h1v1h-1zM1199,262h1v1h-1zM1473,262h1v1h-1zM1199,263h1v1h-1zM1473,263h1v1h-1zM1199,264h1v1h-1zM1473,264h1v1h-1zM1199,265h1v1h-1zM1473,265h1v1h-1zM1199,266h1v1h-1zM1473,266h1v1h-1zM1199,267h1v1h-1zM1473,267h1v1h-1zM1199,268h1v1h-1zM1473,268h1v1h-1zM1199,269h1v1h-1zM1473,269h1v1h-1zM1199,270h1v1h-1zM1473,270h1v1h-1zM1199,271h1v1h-1zM1473,271h1v1h-1zM1200,272h1v1h-1zM1472,272h1v1h-1zM1200,273h1v1h-1zM1472,273h1v1h-1zM1200,274h1v1h-1zM1472,274h1v1h-1zM1200,275h1v1h-1zM1472,275h1v1h-1zM1200,276h1v1h-1zM1472,276h1v1h-1zM1200,277h1v1h-1zM1472,277h1v1h-1zM1200,278h1v1h-1zM1472,278h1v1h-1zM1200,279h1v1h-1zM1472,279h1v1h-1zM1200,280h1v1h-1zM1472,280h1v1h-1zM1201,281h1v1h-1zM1471,281h1v1h-1zM1201,282h1v1h-1zM1471,282h1v1h-1zM1201,283h1v1h-1zM1471,283h1v1h-1zM1201,284h1v1h-1zM1471,284h1v1h-1zM1201,285h1v1h-1zM1471,285h1v1h-1zM1201,286h1v1h-1zM1471,286h1v1h-1zM1201,287h1v1h-1zM1471,287h1v1h-1zM1202,288h1v1h-1zM1470,288h1v1h-1zM1202,289h1v1h-1zM1470,289h1v1h-1zM1202,290h1v1h-1zM1470,290h1v1h-1zM1202,291h1v1h-1zM1470,291h1v1h-1zM1203,292h1v1h-1zM1469,292h1v1h-1zM1203,293h1v1h-1zM1469,293h1v1h-1zM1203,294h1v1h-1zM1469,294h1v1h-1zM1203,295h1v1h-1zM1469,295h1v1h-1zM1203,296h1v1h-1zM1469,296h1v1h-1zM1204,297h1v1h-1zM1468,297h1v1h-1zM1204,298h1v1h-1zM1468,298h1v1h-1zM1204,299h1v1h-1zM1468,299h1v1h-1zM1204,300h1v1h-1zM1468,300h1v1h-1zM1205,301h1v1h-1zM1467,301h1v1h-1zM1205,302h1v1h-1zM1467,302h1v1h-1zM1205,303h1v1h-1zM1467,303h1v1h-1zM1205,304h1v1h-1zM1467,304h1v1h-1zM1206,305h1v1h-1zM1466,305h1v1h-1zM1206,306h1v1h-1zM1466,306h1v1h-1zM1206,307h1v1h-1zM1465,307h1v1h-1zM1207,308h1v1h-1zM1465,308h1v1h-1zM1207,309h1v1h-1zM1465,309h1v1h-1zM1208,310h1v1h-1zM1464,310h1v1h-1zM1208,311h1v1h-1zM1464,311h1v1h-1zM1208,312h1v1h-1zM1464,312h1v1h-1zM1209,313h1v1h-1zM1463,313h1v1h-1zM1209,314h1v1h-1zM1463,314h1v1h-1zM1209,315h1v1h-1zM1463,315h1v1h-1zM1210,316h1v1h-1zM1462,316h1v1h-1zM1210,317h1v1h-1zM1462,317h1v1h-1zM1210,318h1v1h-1zM1462,318h1v1h-1zM1211,319h1v1h-1zM1461,319h1v1h-1zM1211,320h1v1h-1zM1461,320h1v1h-1zM1211,321h1v1h-1zM1460,321h1v1h-1zM1212,322h1v1h-1zM1460,322h1v1h-1zM1212,323h1v1h-1zM1459,323h1v1h-1zM1213,324h1v1h-1zM1459,324h1v1h-1zM1213,325h1v1h-1zM1458,325h1v1h-1zM1214,326h1v1h-1zM1458,326h1v1h-1zM1214,327h1v1h-1zM1457,327h1v1h-1zM1215,328h1v1h-1zM1457,328h1v1h-1zM1216,329h1v1h-1zM1456,329h1v1h-1zM1216,330h1v1h-1zM1456,330h1v1h-1zM1217,331h1v1h-1zM1455,331h1v1h-1zM1218,332h1v1h-1zM1454,332h1v1h-1zM1219,333h1v1h-1zM1453,333h1v1h-1zM1219,334h1v1h-1zM1453,334h1v1h-1zM1220,335h1v1h-1zM1452,335h1v1h-1zM1221,336h1v1h-1zM1451,336h1v1h-1zM1221,337h1v1h-1zM1451,337h1v1h-1zM1222,338h1v1h-1zM1450,338h1v1h-1zM1222,339h1v1h-1zM1449,339h1v1h-1zM1223,340h1v1h-1zM1449,340h1v1h-1zM1224,341h1v1h-1zM1448,341h1v1h-1zM1224,342h1v1h-1zM1448,342h1v1h-1zM1225,343h1v1h-1zM1447,343h1v1h-1zM1226,344h1v1h-1zM1446,344h1v1h-1zM1226,345h1v1h-1zM1446,345h1v1h-1zM1227,346h1v1h-1zM1445,346h1v1h-1zM1228,347h1v1h-1zM1444,347h1v1h-1zM1229,348h1v1h-1zM1443,348h1v1h-1zM1229,349h1v1h-1zM1443,349h1v1h-1zM1230,350h1v1h-1zM1442,350h1v1h-1zM1231,351h1v1h-1zM1441,351h1v1h-1zM1232,352h1v1h-1zM1440,352h1v1h-1zM1233,353h1v1h-1zM1439,353h1v1h-1zM1233,354h1v1h-1zM1439,354h1v1h-1zM1234,355h1v1h-1zM1438,355h1v1h-1zM1235,356h1v1h-1zM1437,356h1v1h-1zM1236,357h1v1h-1zM1436,357h1v1h-1zM1237,358h1v1h-1zM1435,358h1v1h-1zM1238,359h1v1h-1zM1434,359h1v1h-1zM1239,360h1v1h-1zM1433,360h1v1h-1zM1240,361h1v1h-1zM1432,361h1v1h-1zM1241,362h1v1h-1zM1431,362h1v1h-1zM1242,363h1v1h-1zM1430,363h1v1h-1zM1243,364h1v1h-1zM1429,364h1v1h-1zM1244,365h1v1h-1zM1428,365h1v1h-1zM1245,366h2v1h-2zM1426,366h2v1h-2zM1247,367h1v1h-1zM1425,367h1v1h-1zM1248,368h1v1h-1zM1424,368h1v1h-1zM1249,369h1v1h-1zM1423,369h1v1h-1zM1250,370h2v1h-2zM1421,370h2v1h-2zM1252,371h1v1h-1zM1420,371h1v1h-1zM1253,372h1v1h-1zM1419,372h1v1h-1zM1254,373h2v1h-2zM1417,373h2v1h-2zM1256,374h1v1h-1zM1416,374h1v1h-1zM1257,375h2v1h-2zM1414,375h2v1h-2zM1259,376h2v1h-2zM1413,376h1v1h-1zM1261,377h1v1h-1zM1411,377h2v1h-2zM1262,378h2v1h-2zM1409,378h2v1h-2zM1264,379h1v1h-1zM1408,379h1v1h-1zM1265,380h2v1h-2zM1406,380h2v1h-2zM1267,381h1v1h-1zM1405,381h1v1h-1zM1268,382h1v1h-1zM1404,382h1v1h-1zM1269,383h2v1h-2zM1402,383h2v1h-2zM1271,384h2v1h-2zM1401,384h1v1h-1zM1273,385h2v1h-2zM1399,385h2v1h-2zM1275,386h2v1h-2zM1397,386h2v1h-2zM1277,387h2v1h-2zM1395,387h2v1h-2zM1279,388h2v1h-2zM1392,388h3v1h-3zM1281,389h3v1h-3zM1389,389h3v1h-3zM1284,390h3v1h-3zM1386,390h3v1h-3zM1287,391h3v1h-3zM1383,391h3v1h-3zM1290,392h3v1h-3zM1381,392h2v1h-2zM1293,393h2v1h-2zM1378,393h3v1h-3zM1295,394h4v1h-4zM1374,394h4v1h-4zM1299,395h4v1h-4zM1370,395h4v1h-4zM1303,396h5v1h-5zM1365,396h5v1h-5zM1308,397h4v1h-4zM1361,397h4v1h-4zM1312,398h7v1h-7zM1354,398h7v1h-7zM1319,399h9v1h-9zM1345,399h9v1h-9zM1328,400h17v1h-17z" fill="#000"/>
<polygon points="1379.20,214.60 1382.50,223.00 1389.20,223.00 1383.30,227.50 1386.60,237.00 1379.20,231.10 1371.80,237.00 1375.10,227.50 1369.20,223.00 1375.90,223.00" fill="#ff0000"/>
<polygon points="1426.50,251.60 1429.80,260.00 1436.50,260.00 1430.60,264.50 1433.90,274.00 1426.50,268.10 1419.10,274.00 1422.40,264.50 1416.50,260.00 1423.20,260.00" fill="#ff0000"/>
<polygon points="1355.50,278.60 1358.80,287.00 1365.50,287.00 1359.60,291.50 1362.90,301.00 1355.50,295.10 1348.10,301.00 1351.40,291.50 1345.50,287.00 1352.20,287.00" fill="#ff0000"/>
<polygon points="1338.50,287.60 1341.80,296.00 1348.50,296.00 1342.60,300.50 1345.90,310.00 1338.50,304.10 1331.10,310.00 1334.40,300.50 1328.50,296.00 1335.20,296.00" fill="#ff0000"/>
<polygon points="1450.50,290.60 1453.80,299.00 1460.50,299.00 1454.60,303.50 1457.90,313.00 1450.50,307.10 1443.10,313.00 1446.40,303.50 1440.50,299.00 1447.20,299.00" fill="#ff0000"/>
</g>
<defs><filter id="bin" filterUnits="userSpaceOnUse" x="0" y="0" width="1600" height="1200"><feComponentTransfer><feFuncA type="discrete" tableValues="0 1"/></feComponentTransfer></filter></defs>
<g class="txt" filter="url(#bin)" stroke="#000" stroke-width="0.35">
<text transform="matrix(1.0284,0,0,1,208.1,43)" font-size="30.2">Time Interval: 28-Nov-2025 20:00:00 to 28-Nov-2025 21:00:00</text>
<text transform="matrix(1.0234,0,0,1,87.703,117)" font-size="24.5">Be_thick</text>
<text transform="matrix(1.0209,0,0,1,96.1,164)" font-size="24.5">Al_thick</text>
<text transform="matrix(1.0104,0,0,1,99.25,210)" font-size="24.5">Al_med</text>
<text transform="matrix(1.0273,0,0,1,89.645,256)" font-size="24.5">Be_med</text>
<text transform="matrix(1.0138,0,0,1,98.972,303)" font-size="24.5">Be_thin</text>
<text transform="matrix(1.02,0,0,1,105.58,349)" font-size="24.5">C_poly</text>
<text transform="matrix(1.0282,0,0,1,102.9,396)" font-size="24.5">Ti_poly</text>
<text transform="matrix(1.0225,0,0,1,101.1,442)" font-size="24.5">Al_poly</text>
<text transform="matrix(1.0255,0,0,1,86.0,488)" font-size="24.5">Al_mesh</text>
<text transform="matrix(1.0225,0,0,1,108.777,535)" font-size="24.5">Gband</text>
<text transform="matrix(1.0258,0,0,1,308.674,1151)" font-size="24.8">20:10</text>
<text transform="matrix(1.0258,0,0,1,456.674,1151)" font-size="24.8">20:20</text>
<text transform="matrix(1.0258,0,0,1,604.674,1151)" font-size="24.8">20:30</text>
<text transform="matrix(1.0258,0,0,1,752.674,1151)" font-size="24.8">20:40</text>
<text transform="matrix(1.0258,0,0,1,900.674,1151)" font-size="24.8">20:50</text>
<text transform="matrix(1.0217,0,0,1,1048.878,1151)" font-size="24.8">21:00</text>
<text transform="matrix(1.024,0,0,1,127.702,589)" font-size="24.5">M1.0</text>
<text transform="matrix(1.028,0,0,1,130.572,1110)" font-size="24.5">C1.0</text>
<text transform="translate(101,840) rotate(-90)" x="0" y="0" font-size="24.7" text-anchor="middle">GOES flux</text>
<text transform="matrix(1.06,0,0,1,1379.2,245)" font-size="12.5" font-weight="bold" stroke-width="0" text-anchor="middle">4288</text>
<text transform="matrix(1.06,0,0,1,1426.5,282)" font-size="12.5" font-weight="bold" stroke-width="0" text-anchor="middle">4287</text>
<text transform="matrix(1.06,0,0,1,1355.5,309)" font-size="12.5" font-weight="bold" stroke-width="0" text-anchor="middle">4290</text>
<text transform="matrix(1.06,0,0,1,1338.5,319)" font-size="12.5" font-weight="bold" stroke-width="0" text-anchor="middle">4291</text>
<text transform="matrix(1.06,0,0,1,1450.5,321)" font-size="12.5" font-weight="bold" stroke-width="0" text-anchor="middle">4292</text>
</g>
</svg>
</body></html>
